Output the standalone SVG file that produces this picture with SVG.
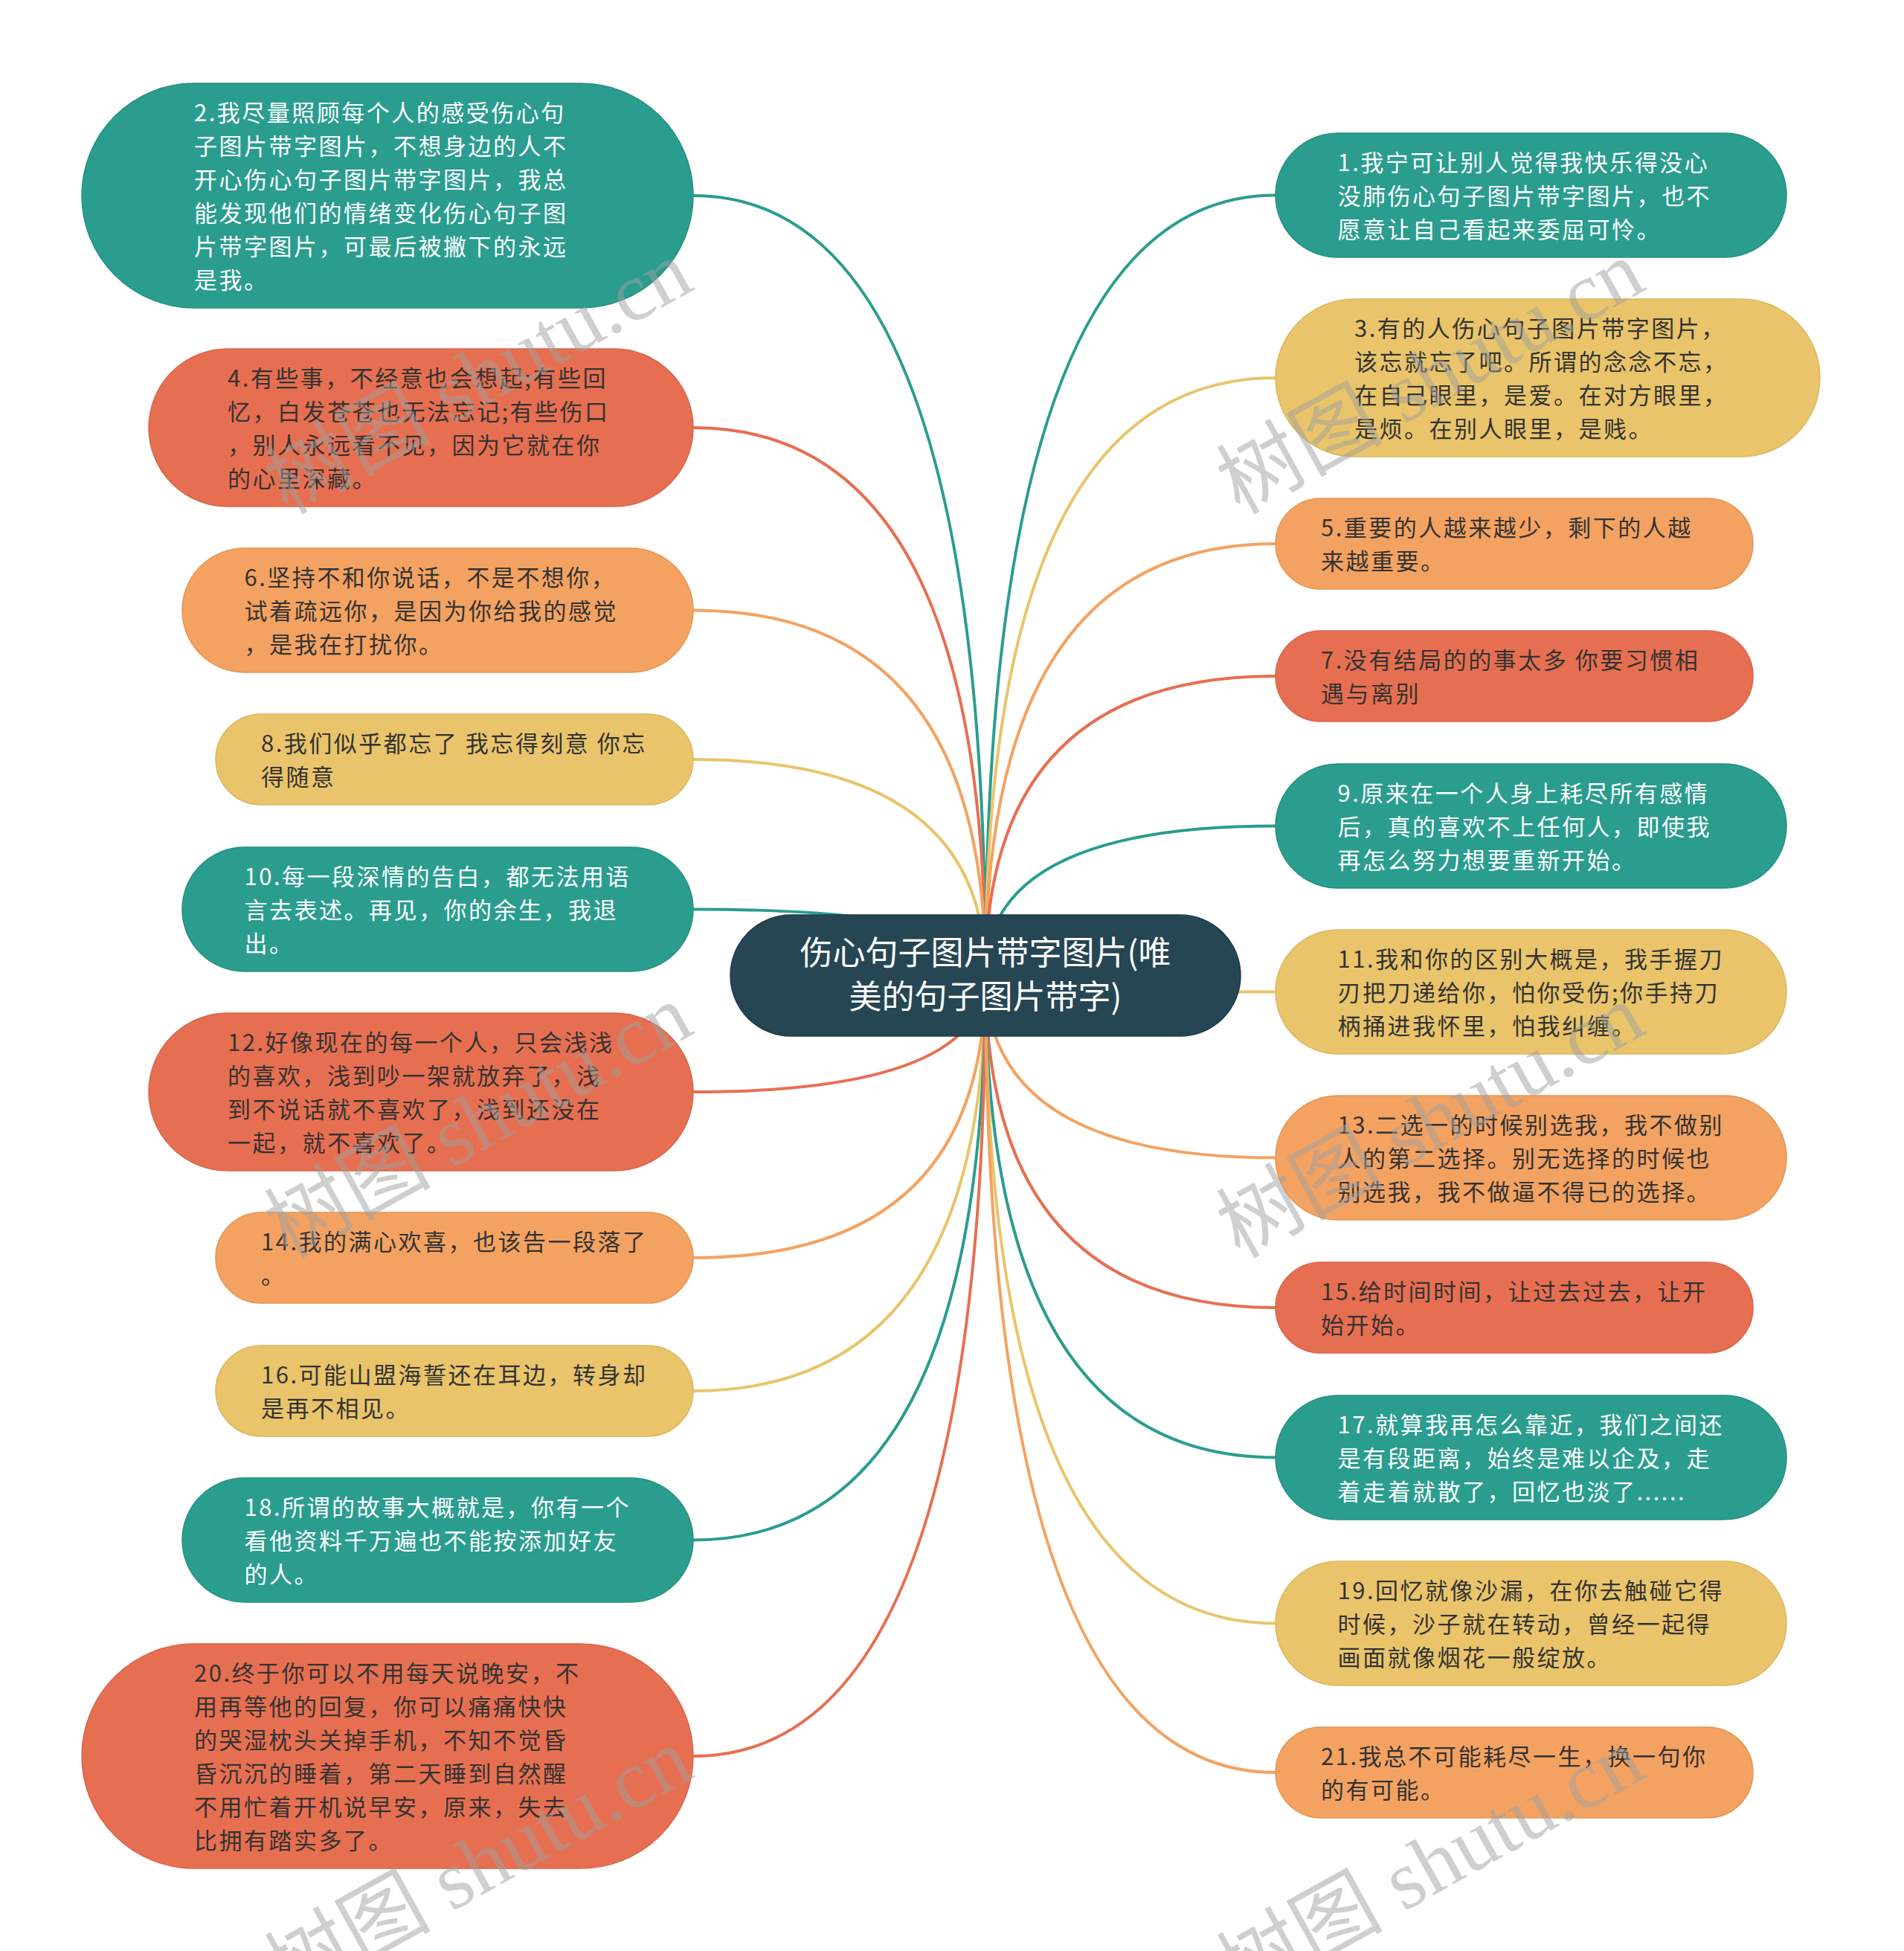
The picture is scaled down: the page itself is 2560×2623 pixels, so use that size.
<svg xmlns="http://www.w3.org/2000/svg" width="2560" height="2623" viewBox="0 0 2560 2623">
<style>
.bg{fill:#ffffff}
.ln{fill:none;stroke-width:4;stroke-linecap:round}
.c-teal{stroke:#2a9d8f}.c-red{stroke:#e76f51}.c-org{stroke:#f4a261}.c-yel{stroke:#e9c46a}
.n-teal{fill:#2a9d8f;stroke:#26907f;stroke-width:1.5}
.n-red{fill:#e76f51;stroke:#d9654a;stroke-width:1.5}
.n-org{fill:#f4a261;stroke:#e59656;stroke-width:1.5}
.n-yel{fill:#e9c46a;stroke:#dbb75f;stroke-width:1.5}
.n-root{fill:#264653;stroke:#1f3c48;stroke-width:1.5}
.tx{font-family:"Noto Sans CJK SC","Noto Sans",sans-serif;font-size:31px;letter-spacing:2.5px}
.tl{fill:#ffffff}.td{fill:#333333}
.root{font-family:"Noto Sans CJK SC","Noto Sans",sans-serif;font-size:44px;fill:#ffffff}
.wm{font-family:"Liberation Serif","Noto Sans CJK SC",serif;font-size:112px;fill:#a0a0a0;fill-opacity:0.5}
</style>
<rect class="bg" x="0" y="0" width="2560" height="2623"/>
<g id="connectors">
<path class="ln c-teal" d="M1325,1311 Q1325,263 932,263"/>
<path class="ln c-red" d="M1325,1311 Q1325,575 932,575"/>
<path class="ln c-org" d="M1325,1311 Q1325,820.5 932,820.5"/>
<path class="ln c-yel" d="M1325,1311 Q1325,1021 932,1021"/>
<path class="ln c-teal" d="M1325,1311 Q1325,1222.5 932,1222.5"/>
<path class="ln c-red" d="M1325,1311 Q1325,1468 932,1468"/>
<path class="ln c-org" d="M1325,1311 Q1325,1691 932,1691"/>
<path class="ln c-yel" d="M1325,1311 Q1325,1870 932,1870"/>
<path class="ln c-teal" d="M1325,1311 Q1325,2070.5 932,2070.5"/>
<path class="ln c-red" d="M1325,1311 Q1325,2361 932,2361"/>
<path class="ln c-teal" d="M1325,1311 Q1325,262.5 1715,262.5"/>
<path class="ln c-yel" d="M1325,1311 Q1325,508 1715,508"/>
<path class="ln c-org" d="M1325,1311 Q1325,731 1715,731"/>
<path class="ln c-red" d="M1325,1311 Q1325,909 1715,909"/>
<path class="ln c-teal" d="M1325,1311 Q1325,1110.5 1715,1110.5"/>
<path class="ln c-yel" d="M1325,1311 Q1325,1333.5 1715,1333.5"/>
<path class="ln c-org" d="M1325,1311 Q1325,1556.5 1715,1556.5"/>
<path class="ln c-red" d="M1325,1311 Q1325,1758 1715,1758"/>
<path class="ln c-teal" d="M1325,1311 Q1325,1959.5 1715,1959.5"/>
<path class="ln c-yel" d="M1325,1311 Q1325,2182.5 1715,2182.5"/>
<path class="ln c-org" d="M1325,1311 Q1325,2383 1715,2383"/>
</g>
<g id="root">
<rect class="n-root" x="982" y="1230" width="686" height="163" rx="81.5"/>
<text class="root" text-anchor="middle"><tspan x="1325" y="1297">伤心句子图片带字图片(唯</tspan><tspan x="1325" y="1356">美的句子图片带字)</tspan></text>
</g>
<g id="node2">
<rect class="n-teal" x="110" y="112" width="822" height="302" rx="151"/>
<text class="tx tl"><tspan x="261" y="162.5">2.我尽量照顾每个人的感受伤心句</tspan><tspan x="261" y="207.5">子图片带字图片，不想身边的人不</tspan><tspan x="261" y="252.5">开心伤心句子图片带字图片，我总</tspan><tspan x="261" y="297.5">能发现他们的情绪变化伤心句子图</tspan><tspan x="261" y="342.5">片带字图片，可最后被撇下的永远</tspan><tspan x="261" y="387.5">是我。</tspan></text>
</g>
<g id="node4">
<rect class="n-red" x="200" y="469" width="732" height="212" rx="106"/>
<text class="tx td"><tspan x="306" y="519.5">4.有些事，不经意也会想起;有些回</tspan><tspan x="306" y="564.5">忆，白发苍苍也无法忘记;有些伤口</tspan><tspan x="306" y="609.5">，别人永远看不见，因为它就在你</tspan><tspan x="306" y="654.5">的心里深藏。</tspan></text>
</g>
<g id="node6">
<rect class="n-org" x="245" y="737" width="687" height="167" rx="83.5"/>
<text class="tx td"><tspan x="328.5" y="787.5">6.坚持不和你说话，不是不想你，</tspan><tspan x="328.5" y="832.5">试着疏远你，是因为你给我的感觉</tspan><tspan x="328.5" y="877.5">，是我在打扰你。</tspan></text>
</g>
<g id="node8">
<rect class="n-yel" x="290" y="960" width="642" height="122" rx="61"/>
<text class="tx td"><tspan x="351" y="1010.5">8.我们似乎都忘了 我忘得刻意 你忘</tspan><tspan x="351" y="1055.5">得随意</tspan></text>
</g>
<g id="node10">
<rect class="n-teal" x="245" y="1139" width="687" height="167" rx="83.5"/>
<text class="tx tl"><tspan x="328.5" y="1189.5">10.每一段深情的告白，都无法用语</tspan><tspan x="328.5" y="1234.5">言去表述。再见，你的余生，我退</tspan><tspan x="328.5" y="1279.5">出。</tspan></text>
</g>
<g id="node12">
<rect class="n-red" x="200" y="1362" width="732" height="212" rx="106"/>
<text class="tx td"><tspan x="306" y="1412.5">12.好像现在的每一个人，只会浅浅</tspan><tspan x="306" y="1457.5">的喜欢，浅到吵一架就放弃了，浅</tspan><tspan x="306" y="1502.5">到不说话就不喜欢了，浅到还没在</tspan><tspan x="306" y="1547.5">一起，就不喜欢了。</tspan></text>
</g>
<g id="node14">
<rect class="n-org" x="290" y="1630" width="642" height="122" rx="61"/>
<text class="tx td"><tspan x="351" y="1680.5">14.我的满心欢喜，也该告一段落了</tspan><tspan x="351" y="1725.5">。</tspan></text>
</g>
<g id="node16">
<rect class="n-yel" x="290" y="1809" width="642" height="122" rx="61"/>
<text class="tx td"><tspan x="351" y="1859.5">16.可能山盟海誓还在耳边，转身却</tspan><tspan x="351" y="1904.5">是再不相见。</tspan></text>
</g>
<g id="node18">
<rect class="n-teal" x="245" y="1987" width="687" height="167" rx="83.5"/>
<text class="tx tl"><tspan x="328.5" y="2037.5">18.所谓的故事大概就是，你有一个</tspan><tspan x="328.5" y="2082.5">看他资料千万遍也不能按添加好友</tspan><tspan x="328.5" y="2127.5">的人。</tspan></text>
</g>
<g id="node20">
<rect class="n-red" x="110" y="2210" width="822" height="302" rx="151"/>
<text class="tx td"><tspan x="261" y="2260.5">20.终于你可以不用每天说晚安，不</tspan><tspan x="261" y="2305.5">用再等他的回复，你可以痛痛快快</tspan><tspan x="261" y="2350.5">的哭湿枕头关掉手机，不知不觉昏</tspan><tspan x="261" y="2395.5">昏沉沉的睡着，第二天睡到自然醒</tspan><tspan x="261" y="2440.5">不用忙着开机说早安，原来，失去</tspan><tspan x="261" y="2485.5">比拥有踏实多了。</tspan></text>
</g>
<g id="node1">
<rect class="n-teal" x="1715" y="179" width="687" height="167" rx="83.5"/>
<text class="tx tl"><tspan x="1798.5" y="229.5">1.我宁可让别人觉得我快乐得没心</tspan><tspan x="1798.5" y="274.5">没肺伤心句子图片带字图片，也不</tspan><tspan x="1798.5" y="319.5">愿意让自己看起来委屈可怜。</tspan></text>
</g>
<g id="node3">
<rect class="n-yel" x="1715" y="402" width="732" height="212" rx="106"/>
<text class="tx td"><tspan x="1821" y="452.5">3.有的人伤心句子图片带字图片，</tspan><tspan x="1821" y="497.5">该忘就忘了吧。所谓的念念不忘，</tspan><tspan x="1821" y="542.5">在自己眼里，是爱。在对方眼里，</tspan><tspan x="1821" y="587.5">是烦。在别人眼里，是贱。</tspan></text>
</g>
<g id="node5">
<rect class="n-org" x="1715" y="670" width="642" height="122" rx="61"/>
<text class="tx td"><tspan x="1776" y="720.5">5.重要的人越来越少，剩下的人越</tspan><tspan x="1776" y="765.5">来越重要。</tspan></text>
</g>
<g id="node7">
<rect class="n-red" x="1715" y="848" width="642" height="122" rx="61"/>
<text class="tx td"><tspan x="1776" y="898.5">7.没有结局的的事太多 你要习惯相</tspan><tspan x="1776" y="943.5">遇与离别</tspan></text>
</g>
<g id="node9">
<rect class="n-teal" x="1715" y="1027" width="687" height="167" rx="83.5"/>
<text class="tx tl"><tspan x="1798.5" y="1077.5">9.原来在一个人身上耗尽所有感情</tspan><tspan x="1798.5" y="1122.5">后，真的喜欢不上任何人，即使我</tspan><tspan x="1798.5" y="1167.5">再怎么努力想要重新开始。</tspan></text>
</g>
<g id="node11">
<rect class="n-yel" x="1715" y="1250" width="687" height="167" rx="83.5"/>
<text class="tx td"><tspan x="1798.5" y="1300.5">11.我和你的区别大概是，我手握刀</tspan><tspan x="1798.5" y="1345.5">刃把刀递给你，怕你受伤;你手持刀</tspan><tspan x="1798.5" y="1390.5">柄捅进我怀里，怕我纠缠。</tspan></text>
</g>
<g id="node13">
<rect class="n-org" x="1715" y="1473" width="687" height="167" rx="83.5"/>
<text class="tx td"><tspan x="1798.5" y="1523.5">13.二选一的时候别选我，我不做别</tspan><tspan x="1798.5" y="1568.5">人的第二选择。别无选择的时候也</tspan><tspan x="1798.5" y="1613.5">别选我，我不做逼不得已的选择。</tspan></text>
</g>
<g id="node15">
<rect class="n-red" x="1715" y="1697" width="642" height="122" rx="61"/>
<text class="tx td"><tspan x="1776" y="1747.5">15.给时间时间，让过去过去，让开</tspan><tspan x="1776" y="1792.5">始开始。</tspan></text>
</g>
<g id="node17">
<rect class="n-teal" x="1715" y="1876" width="687" height="167" rx="83.5"/>
<text class="tx tl"><tspan x="1798.5" y="1926.5">17.就算我再怎么靠近，我们之间还</tspan><tspan x="1798.5" y="1971.5">是有段距离，始终是难以企及，走</tspan><tspan x="1798.5" y="2016.5">着走着就散了，回忆也淡了......</tspan></text>
</g>
<g id="node19">
<rect class="n-yel" x="1715" y="2099" width="687" height="167" rx="83.5"/>
<text class="tx td"><tspan x="1798.5" y="2149.5">19.回忆就像沙漏，在你去触碰它得</tspan><tspan x="1798.5" y="2194.5">时候，沙子就在转动，曾经一起得</tspan><tspan x="1798.5" y="2239.5">画面就像烟花一般绽放。</tspan></text>
</g>
<g id="node21">
<rect class="n-org" x="1715" y="2322" width="642" height="122" rx="61"/>
<text class="tx td"><tspan x="1776" y="2372.5">21.我总不可能耗尽一生，换一句你</tspan><tspan x="1776" y="2417.5">的有可能。</tspan></text>
</g>
<g id="watermarks">
<text class="wm" text-anchor="middle" transform="translate(643,507) rotate(-29)" x="0" y="38">树图 shutu.cn</text>
<text class="wm" text-anchor="middle" transform="translate(643,1507) rotate(-29)" x="0" y="38">树图 shutu.cn</text>
<text class="wm" text-anchor="middle" transform="translate(643,2507) rotate(-29)" x="0" y="38">树图 shutu.cn</text>
<text class="wm" text-anchor="middle" transform="translate(1923,507) rotate(-29)" x="0" y="38">树图 shutu.cn</text>
<text class="wm" text-anchor="middle" transform="translate(1923,1507) rotate(-29)" x="0" y="38">树图 shutu.cn</text>
<text class="wm" text-anchor="middle" transform="translate(1923,2507) rotate(-29)" x="0" y="38">树图 shutu.cn</text>
</g>
</svg>
